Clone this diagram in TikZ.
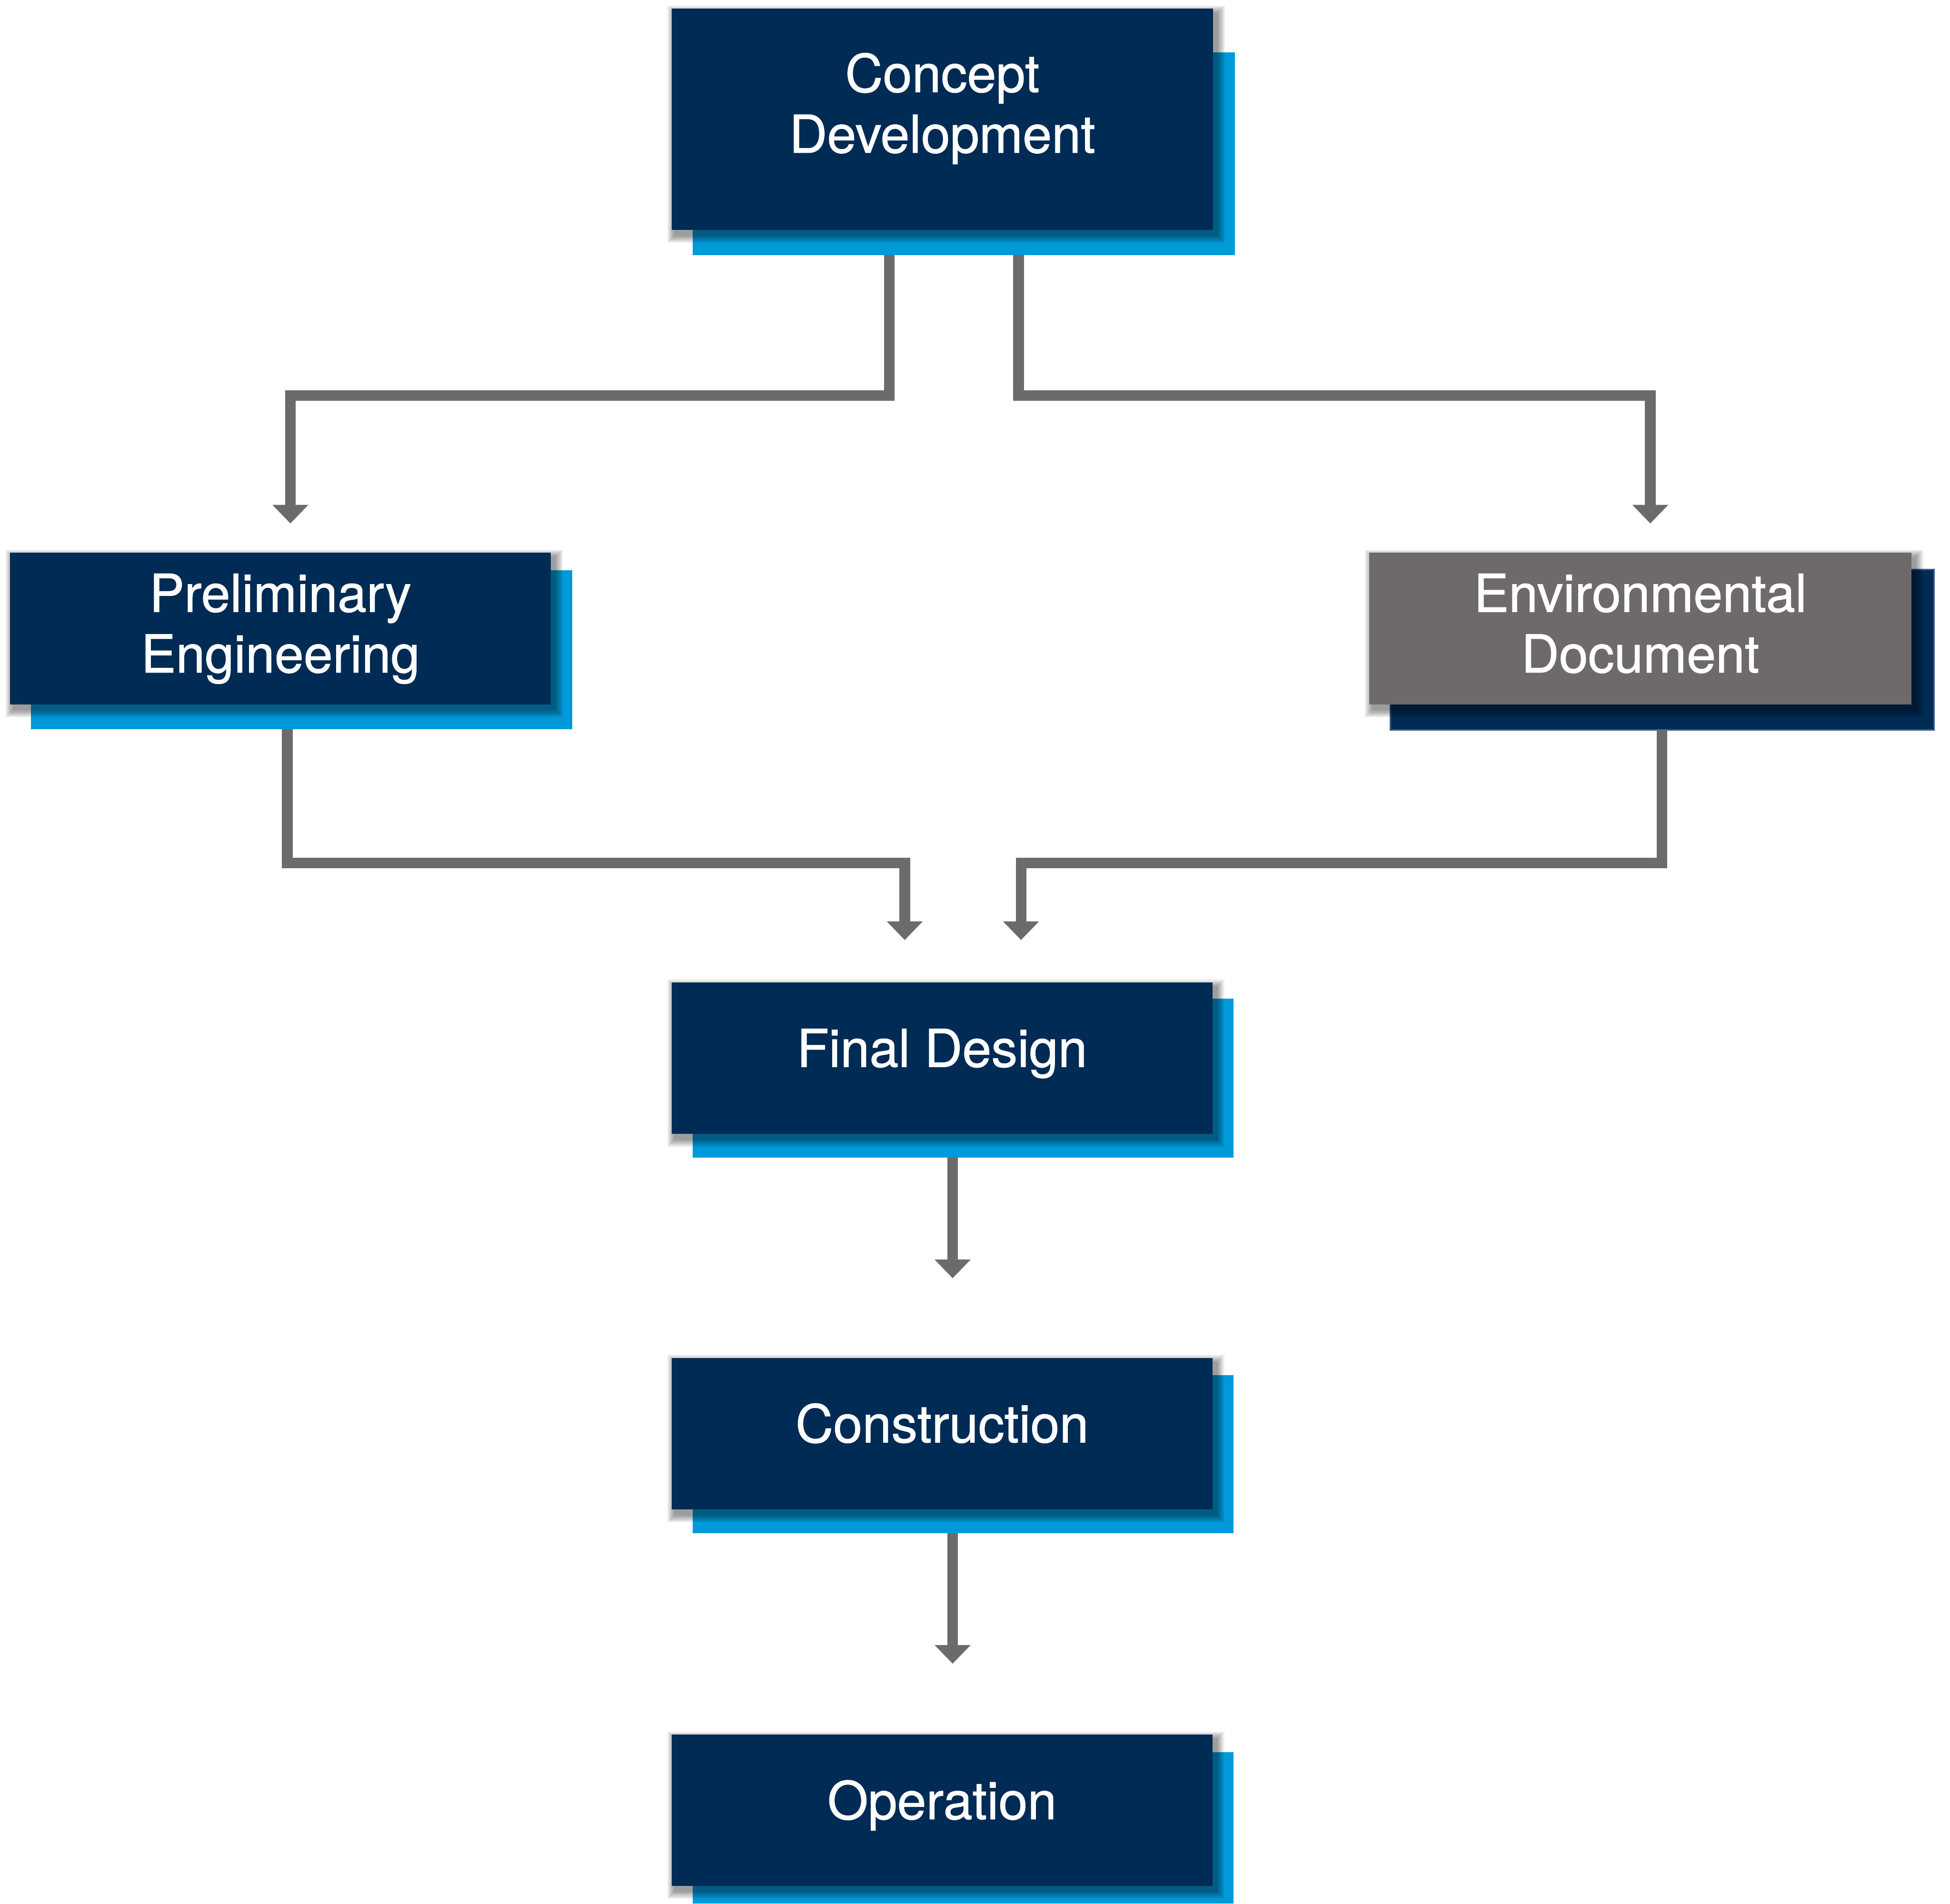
\documentclass[tikz,border=0pt]{standalone}
\usepackage{fontspec}
\setmainfont[FakeBold=1]{TeX Gyre Heros}
\usetikzlibrary{arrows.meta,calc}
\definecolor{navy}{HTML}{002B55}
\definecolor{sky}{HTML}{0099DA}
\definecolor{stone}{HTML}{6E6A6B}
\definecolor{wire}{HTML}{6D6A6B}
\definecolor{navyedge}{HTML}{3A5B8C}
\tikzset{
  panel/.style={rectangle, inner sep=0pt, outer sep=0pt, draw=none},
  stagetext/.style={text=white, inner sep=0pt, outer sep=0pt, anchor=base,
    font=\fontsize{42}{48.8}\selectfont},
  conn/.style={draw=wire, line width=8.5pt, line join=miter,
    -{Triangle[width=28pt,length=15pt]}},
}
\newcommand\panelnode[6]{%
  \node[panel, fill=#6, minimum width={(#4)-(#2)}, minimum height={(#5)-(#3)}]
    (#1) at ({((#2)+(#4))/2},{((#3)+(#5))/2}) {};}
\newcommand\panelshadow[1]{%
  \foreach \r in {1,...,8}{%
    \fill[black,opacity=0.06]
      ($(#1.south west)+({3-\r*0.8},{4+\r*0.8})$) rectangle
      ($(#1.north east)+({3+\r*0.8},{4-\r*0.8})$);}}
\begin{document}
\begin{tikzpicture}[x=1pt,y=-1pt]
\useasboundingbox (0,0) rectangle (1568,1531);
% Concept Development
\panelnode{cdb}{557}{42}{993}{205}{sky}
\panelnode{cdf}{540}{7}{975.5}{185}{navy}
% Preliminary Engineering
\panelnode{peb}{25}{458.5}{460}{586.5}{sky}
\panelnode{pef}{8}{444.5}{443}{566.5}{navy}
% Environmental Document
\panelnode{edb}{1118}{458}{1555}{587}{navy}
\panelnode{edf}{1101}{444.5}{1537}{566.5}{stone}
% Final Design
\panelnode{fdb}{557}{803}{992}{931}{sky}
\panelnode{fdf}{540}{790}{975}{912}{navy}
% Construction
\panelnode{cob}{557}{1106}{992}{1233}{sky}
\panelnode{cof}{540}{1092}{975}{1214}{navy}
% Operation
\panelnode{opb}{557}{1409}{992}{1531}{sky}
\panelnode{opf}{540}{1395}{975}{1516.5}{navy}
% edge of env back panel
\draw[navyedge, line width=1.2pt] (edb.north west) rectangle (edb.south east);
% shadows
\panelshadow{cdf}
\panelshadow{pef}
\panelshadow{edf}
\panelshadow{fdf}
\panelshadow{cof}
\panelshadow{opf}
% front panels redrawn over shadows
\fill[navy] (cdf.north west) rectangle (cdf.south east);
\fill[navy] (pef.north west) rectangle (pef.south east);
\fill[stone] (edf.north west) rectangle (edf.south east);
\fill[navy] (fdf.north west) rectangle (fdf.south east);
\fill[navy] (cof.north west) rectangle (cof.south east);
\fill[navy] (opf.north west) rectangle (opf.south east);
% texts
\node[stagetext] (cdt) at (757.75,74) {\begin{tabular}[t]{@{}c@{}}Concept\\Development\end{tabular}};
\node[stagetext] (pet) at (225.5,492) {\begin{tabular}[t]{@{}c@{}}Preliminary\\Engineering\end{tabular}};
\node[stagetext] (edt) at (1319,492) {\begin{tabular}[t]{@{}c@{}}Environmental\\Document\end{tabular}};
\node[stagetext] (fdt) at (757.5,858) {Final Design};
\node[stagetext] (cot) at (757.5,1160) {Construction};
\node[stagetext] (opt) at (757.5,1463) {Operation};
% connectors
\draw[conn] ([xshift=-60pt]cdb.south) -- ++(0,113) -| ($(pef.north)+(8,-23.5)$);
\draw[conn] ([xshift=44pt]cdb.south) -- ++(0,113) -| ($(edf.north)+(8,-23.5)$);
\draw[conn] ([xshift=-11.5pt]peb.south) -- ++(0,107.5) -| ($(fdf.north)+(-30,-34)$);
\draw[conn] (edb.south) -- ++(0,107) -| ($(fdf.north)+(63.5,-34)$);
\draw[conn] ([xshift=-8.5pt]fdb.south) -- ($(cof.north)+(8.5,-64)$);
\draw[conn] ([xshift=-8.5pt]cob.south) -- ($(opf.north)+(8.5,-57)$);
\end{tikzpicture}
\end{document}
